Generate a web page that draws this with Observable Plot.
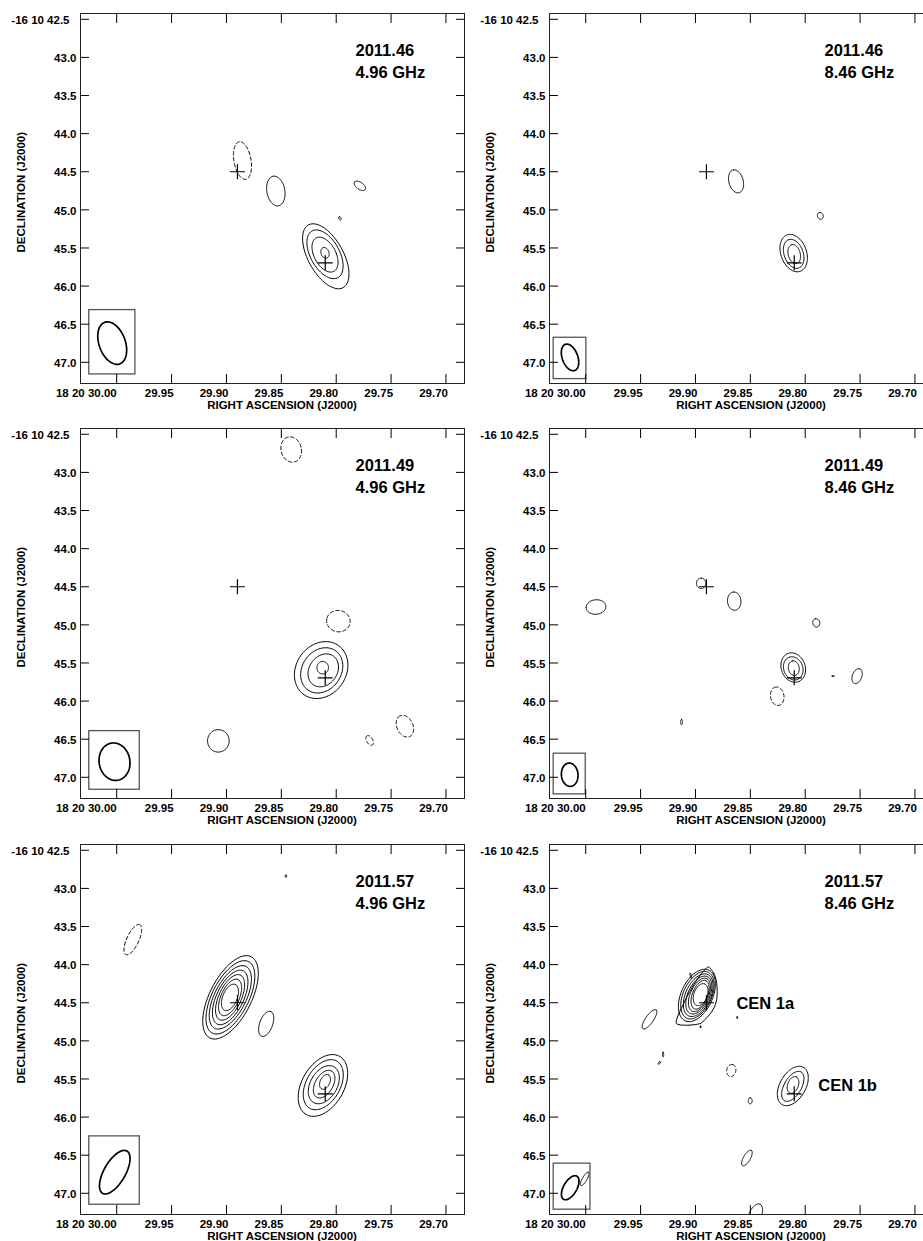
<!DOCTYPE html>
<html>
<head>
<meta charset="utf-8">
<script src="https://cdn.jsdelivr.net/npm/d3@7"></script>
<script src="https://cdn.jsdelivr.net/npm/@observablehq/plot@0.6"></script>
<style>
  html, body { margin: 0; padding: 0; background: #fff; overflow: hidden; }
  #maps { position: relative; width: 923px; height: 1241px; overflow: hidden; background: #fff; }
  #maps > div { position: absolute; width: 469px; height: 415px; }
  #maps svg { max-width: none !important; }
</style>
</head>
<body>
<div id="maps"></div>
<script>
// ---- Axes (RA in seconds of time past 18h20m, Dec in arcsec past -16d10m) ----
const raTicks = [30.00, 29.95, 29.90, 29.85, 29.80, 29.75, 29.70];
const raTickLabels = ["18 20 30.00", "29.95", "29.90", "29.85", "29.80", "29.75", "29.70"];
const decTicks = [42.5, 43.0, 43.5, 44.0, 44.5, 45.0, 45.5, 46.0, 46.5, 47.0];
const decTickLabels = ["-16 10 42.5", "43.0", "43.5", "44.0", "44.5", "45.0", "45.5", "46.0", "46.5", "47.0"];
const raDomain = [30.0330, 29.6831];
const decDomain = [47.278, 42.424];

// ---- Panels: epoch and observing frequency ----
const epochs = ["2011.46", "2011.46", "2011.49", "2011.49", "2011.57", "2011.57"];
const bands = ["4.96 GHz", "8.46 GHz", "4.96 GHz", "8.46 GHz", "4.96 GHz", "8.46 GHz"];

// Reference positions of the two components (crosses)
const sources = [
  {name: "CEN 1a", ra: 29.890, dec: 44.500},
  {name: "CEN 1b", ra: 29.810, dec: 45.695}
];

// Contours as ellipses: [ra (s), dec (arcsec), semi-major ("), semi-minor ("), PA (deg E of N)]
// positive levels (solid) and negative levels (dashed)
const pos46C = [
  [29.8550, 44.753, 0.197, 0.118, 10],
  [29.7784, 44.685, 0.085, 0.046, 55],
  [29.7966, 45.112, 0.022, 0.014, 30],
  [29.8095, 45.609, 0.470, 0.231, 29],
  [29.8102, 45.583, 0.350, 0.190, 29],
  [29.8102, 45.587, 0.248, 0.142, 28],
  [29.8102, 45.564, 0.072, 0.052, 20]
];
const neg46C = [
  [29.8854, 44.353, 0.250, 0.112, 10]
];
const pos46X = [
  [29.8630, 44.626, 0.154, 0.094, 15],
  [29.7862, 45.079, 0.045, 0.038, 20],
  [29.8105, 45.567, 0.254, 0.168, 20],
  [29.8105, 45.577, 0.197, 0.125, 20],
  [29.8100, 45.580, 0.127, 0.079, 15]
];
const neg46X = [];
const pos49C = [
  [29.9074, 46.522, 0.147, 0.142, 0],
  [29.8137, 45.593, 0.394, 0.328, -35],
  [29.8132, 45.597, 0.315, 0.256, -35],
  [29.8118, 45.597, 0.230, 0.184, -35],
  [29.8123, 45.562, 0.082, 0.076, 0]
];
const neg49C = [
  [29.8410, 42.700, 0.168, 0.133, 15],
  [29.7980, 44.951, 0.155, 0.140, 80],
  [29.7695, 46.516, 0.070, 0.040, 30],
  [29.7374, 46.329, 0.150, 0.105, 25]
];
const pos49X = [
  [29.9906, 44.766, 0.130, 0.095, 95],
  [29.8948, 44.455, 0.068, 0.062, 0],
  [29.8647, 44.689, 0.120, 0.088, 5],
  [29.7899, 44.974, 0.055, 0.046, 10],
  [29.8109, 45.560, 0.197, 0.157, 20],
  [29.8109, 45.571, 0.155, 0.125, 20],
  [29.8104, 45.568, 0.096, 0.071, 10],
  [29.7744, 45.672, 0.015, 0.008, 90],
  [29.7527, 45.673, 0.102, 0.062, -20],
  [29.9127, 46.275, 0.035, 0.012, 0]
];
const neg49X = [
  [29.8255, 45.936, 0.122, 0.088, 10]
];
const pos57C = [
  [29.8458, 42.841, 0.015, 0.010, 0],
  [29.8963, 44.429, 0.598, 0.273, -27],
  [29.8964, 44.429, 0.526, 0.240, -27],
  [29.8965, 44.429, 0.455, 0.207, -27],
  [29.8966, 44.430, 0.389, 0.177, -26],
  [29.8967, 44.430, 0.323, 0.147, -25],
  [29.8967, 44.430, 0.257, 0.120, -24],
  [29.8968, 44.430, 0.183, 0.095, -22],
  [29.8638, 44.777, 0.173, 0.085, -20],
  [29.8121, 45.585, 0.440, 0.276, -30],
  [29.8118, 45.575, 0.357, 0.223, -30],
  [29.8113, 45.575, 0.270, 0.176, -30],
  [29.8110, 45.568, 0.198, 0.117, -30],
  [29.8102, 45.538, 0.103, 0.063, -25]
];
const neg57C = [
  [29.9853, 43.672, 0.217, 0.079, -25]
];
const pos57X = [
  [29.8987, 44.404, 0.367, 0.206, -25],
  [29.8982, 44.401, 0.333, 0.185, -25],
  [29.8975, 44.401, 0.299, 0.164, -25],
  [29.8970, 44.399, 0.266, 0.142, -25],
  [29.8964, 44.397, 0.234, 0.119, -24],
  [29.8958, 44.395, 0.199, 0.100, -22],
  [29.8953, 44.394, 0.150, 0.088, -20],
  [29.9042, 44.150, 0.035, 0.008, 15],
  [29.8953, 44.818, 0.012, 0.008, 0],
  [29.8620, 44.696, 0.012, 0.008, 0],
  [29.9419, 44.718, 0.151, 0.052, -35],
  [29.9330, 45.290, 0.020, 0.010, -30],
  [29.9295, 45.180, 0.030, 0.008, 0],
  [29.8501, 45.787, 0.040, 0.025, 0],
  [29.8531, 46.537, 0.115, 0.045, -30],
  [29.8455, 47.280, 0.150, 0.080, -25],
  [29.8113, 45.592, 0.282, 0.169, -30],
  [29.8113, 45.597, 0.218, 0.113, -30],
  [29.8111, 45.579, 0.114, 0.070, -20],
  [30.0009, 46.811, 0.100, 0.030, -30]
];
const neg57X = [
  [29.8674, 45.389, 0.080, 0.060, -10]
];
// Lowest contour of CEN 1a at 8.46 GHz, 2011.57 (outline vertices: ra, dec)
const outline57X = [
  [29.8884, 44.030], [29.8832, 44.118], [29.8807, 44.240], [29.8807, 44.459],
  [29.8839, 44.589], [29.8914, 44.721], [29.8960, 44.774], [29.9172, 44.774],
  [29.9167, 44.700], [29.9112, 44.525], [29.9051, 44.350], [29.8975, 44.175],
  [29.8914, 44.066]
];

// Restoring beams [ra, dec, bmaj/2, bmin/2, PA] and their boxes [ra1, ra2, dec1, dec2]
const beams = [
  [30.0041, 46.748, 0.290, 0.172, 20],
  [30.0143, 46.936, 0.182, 0.102, 20],
  [30.0020, 46.795, 0.247, 0.202, 10],
  [30.0146, 46.966, 0.153, 0.109, 5],
  [30.0018, 46.723, 0.320, 0.140, -30],
  [30.0141, 46.927, 0.175, 0.087, -30]
];
const beamBoxes = [
  [30.0250, 29.9830, 46.315, 47.159],
  [30.0292, 29.9994, 46.678, 47.220],
  [30.0250, 29.9790, 46.394, 47.163],
  [30.0292, 30.0000, 46.690, 47.224],
  [30.0250, 29.9790, 46.253, 47.150],
  [30.0292, 29.9957, 46.611, 47.215]
];

const positives = [pos46C, pos46X, pos49C, pos49X, pos57C, pos57X];
const negatives = [neg46C, neg46X, neg49C, neg49X, neg57C, neg57X];
const outlines = [[], [], [], [], [], outline57X];

// ---- Geometry helpers ----
const RA_PER_ARCSEC = 1 / (15 * Math.cos((16 + 10 / 60 + 45 / 3600) * Math.PI / 180));
function ellipsePath(id, [ra, dec, a, b, pa]) {
  const t = pa * Math.PI / 180, ct = Math.cos(t), st = Math.sin(t);
  return d3.range(96).map(i => {
    const u = 2 * Math.PI * i / 96;
    const n = a * Math.cos(u), e = b * Math.sin(u);
    const dN = n * ct - e * st, dE = n * st + e * ct;
    return {id, ra: ra + dE * RA_PER_ARCSEC, dec: dec - dN};
  });
}
const cross = {
  draw(context, size) {
    const r = Math.sqrt(size / Math.PI);
    context.moveTo(-r, 0); context.lineTo(r, 0);
    context.moveTo(0, -r); context.lineTo(0, r);
  }
};

const FONT = "'Liberation Sans', Arial, Helvetica, sans-serif";
const colX = [0, 469];
const rowY = [0, 415, 831];

function panel(k) {
  const solid = positives[k].flatMap((c, i) => ellipsePath(i, c));
  const dashed = negatives[k].flatMap((c, i) => ellipsePath(i, c));
  const outline = outlines[k].map(([ra, dec]) => ({ra, dec}));
  const beam = ellipsePath(0, beams[k]);
  const [bx1, bx2, by1, by2] = beamBoxes[k];
  const bold = {fontWeight: "bold", fontSize: 11.5, lineAnchor: "middle"};
  const big = {fontWeight: "bold", fontSize: 16.5, lineAnchor: "middle", textAnchor: "start"};
  const marks = [
    Plot.frame({stroke: "#222", strokeWidth: 1}),
    Plot.line(solid, {x: "ra", y: "dec", z: "id", curve: "linear-closed", stroke: "#000", strokeWidth: 1, clip: true}),
    Plot.line(dashed, {x: "ra", y: "dec", z: "id", curve: "linear-closed", stroke: "#000", strokeWidth: 1, strokeDasharray: "3.5,2.5", clip: true}),
    Plot.line(outline, {x: "ra", y: "dec", curve: "catmull-rom-closed", stroke: "#000", strokeWidth: 1, clip: true}),
    Plot.rect([0], {x1: bx1, x2: bx2, y1: by1, y2: by2, fill: "none", stroke: "#555", strokeWidth: 1.3}),
    Plot.line(beam, {x: "ra", y: "dec", curve: "linear-closed", stroke: "#000", strokeWidth: 1.7}),
    Plot.dot(sources, {x: "ra", y: "dec", symbol: cross, r: 7.5, stroke: "#000", fill: "none", strokeWidth: 1.2}),
    // inward tick marks on all four sides
    Plot.axisX(raTicks, {anchor: "top", tickSize: 9, dy: 9, tickFormat: () => "", label: null}),
    Plot.axisX(raTicks, {anchor: "bottom", tickSize: 9, dy: -9, tickFormat: () => "", label: null}),
    Plot.axisY(decTicks, {anchor: "left", tickSize: 9, dx: 9, tickFormat: () => "", label: null}),
    Plot.axisY(decTicks, {anchor: "right", tickSize: 9, dx: -9, tickFormat: () => "", label: null}),
    // tick labels
    Plot.text(raTickLabels.slice(0, 1), {x: raTicks.slice(0, 1), text: d => d, frameAnchor: "bottom", dy: 10, dx: 0, textAnchor: "end", ...bold}),
    Plot.text(raTickLabels.slice(1), {x: raTicks.slice(1), text: d => d, frameAnchor: "bottom", dy: 10, dx: 2, textAnchor: "end", ...bold}),
    Plot.text(decTickLabels.slice(0, 1), {y: decTicks.slice(0, 1), text: d => d, frameAnchor: "left", dx: -11, dy: 1, textAnchor: "end", ...bold}),
    Plot.text(decTickLabels.slice(1), {y: decTicks.slice(1), text: d => d, frameAnchor: "left", dx: -4, dy: 1, textAnchor: "end", ...bold}),
    // axis titles
    Plot.text(["RIGHT ASCENSION (J2000)"], {frameAnchor: "bottom", dx: 9.5, dy: 21.5, textAnchor: "middle", ...bold}),
    Plot.text(["DECLINATION (J2000)"], {frameAnchor: "left", dx: -58.7, dy: -6.3, rotate: -90, textAnchor: "middle", ...bold}),
    // epoch and frequency
    Plot.text([epochs[k]], {frameAnchor: "top-left", dx: 275, dy: 37.7, ...big}),
    Plot.text([bands[k]], {frameAnchor: "top-left", dx: 275, dy: 59, ...big})
  ];
  if (k === 5) {
    marks.push(
      Plot.text(sources.slice(0, 1), {x: "ra", y: "dec", text: "name", dx: 30, dy: 1, ...big}),
      Plot.text(sources.slice(1, 2), {x: "ra", y: "dec", text: "name", dx: 24, dy: -8.5, ...big})
    );
  }
  return Plot.plot({
    width: 469,
    height: 415,
    marginLeft: 80,
    marginRight: 5,
    marginTop: 13,
    marginBottom: 32,
    x: {domain: raDomain, axis: null},
    y: {domain: decDomain, axis: null},
    style: {background: "transparent", overflow: "visible", fontFamily: FONT, color: "#000", maxWidth: "none"},
    marks
  });
}

const root = document.getElementById("maps");
for (let k = 0; k < 6; ++k) {
  const holder = document.createElement("div");
  holder.style.left = colX[k % 2] + "px";
  holder.style.top = rowY[Math.floor(k / 2)] + "px";
  holder.appendChild(panel(k));
  root.appendChild(holder);
}
</script>
</body>
</html>
